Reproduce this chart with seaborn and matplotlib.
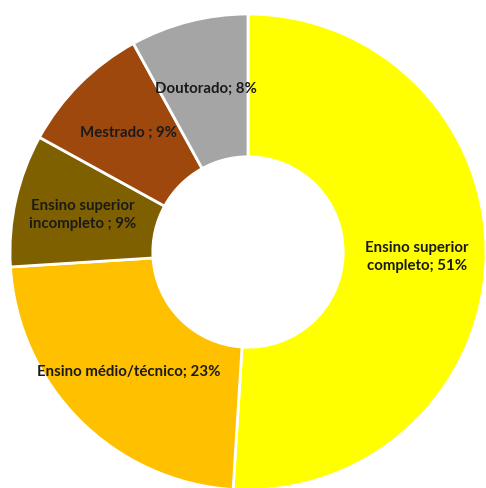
import matplotlib
matplotlib.use("Agg")
import matplotlib.pyplot as plt
import seaborn as sns

categories = ["Ensino superior\ncompleto", "Ensino médio/técnico", "Ensino superior\nincompleto ", "Mestrado ", "Doutorado"]
values = [51, 23, 9, 9, 8]
colors = ["#FFFF00", "#FFC000", "#7F6000", "#9E480E", "#A5A5A5"]

sns.set_theme(style="white")
plt.rcParams['font.family'] = ['Lato', 'DejaVu Sans']

labels = [f"{c}; {v}%" for c, v in zip(categories, values)]

fig = plt.figure(figsize=(4.86, 4.88), dpi=100)
R = 238
ax = fig.add_axes([10 / 486, (236 - R) / 488, 2 * R / 486, 2 * R / 488])
wedges, texts = ax.pie(values, labels=labels, colors=colors, startangle=90, counterclock=False,
                       labeldistance=0.71, radius=1.0,
                       wedgeprops=dict(width=0.60, edgecolor="white", linewidth=2),
                       textprops=dict(fontsize=10.8, fontweight="bold", color="#1a1a1a",
                                      ha="center", va="center", multialignment="center",
                                      linespacing=1.35))
for t in texts:
    t.set_ha("center")
    t.set_va("center")
ax.set_xlim(-1, 1)
ax.set_ylim(-1, 1)
ax.set_aspect("auto")
ax.axis("off")
fig.savefig("out.png", dpi=100)
